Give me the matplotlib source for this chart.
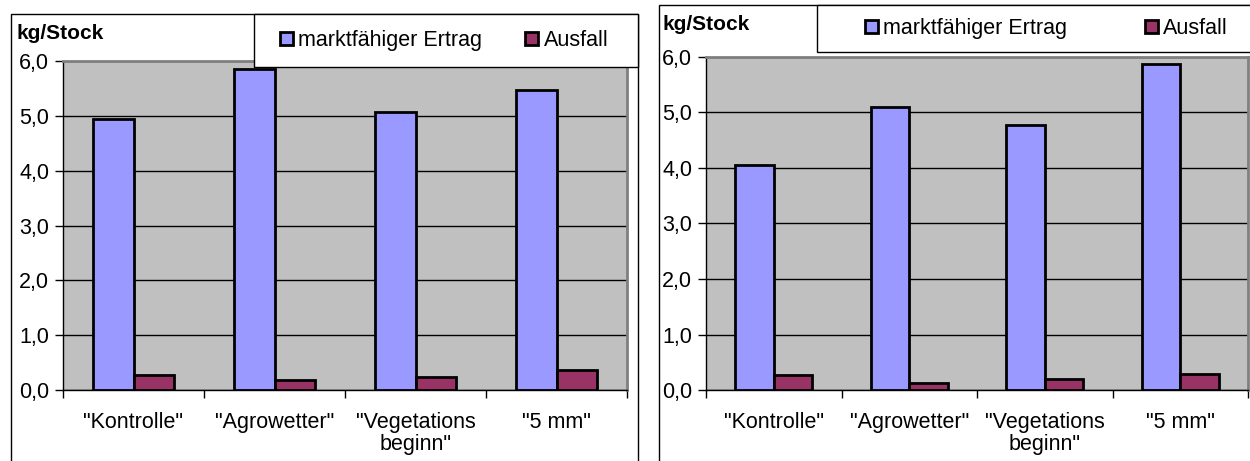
import numpy as np
import matplotlib.pyplot as plt
from matplotlib.patches import Rectangle, Patch

plt.rcParams['font.family'] = ['Liberation Sans', 'DejaVu Sans']

# data
categories = ['"Kontrolle"', '"Agrowetter"', '"Vegetations\nbeginn"', '"5 mm"']
ertrag_left = [4.95, 5.85, 5.07, 5.47]
ausfall_left = [0.28, 0.18, 0.24, 0.36]
ertrag_right = [4.05, 5.10, 4.78, 5.87]
ausfall_right = [0.27, 0.12, 0.19, 0.28]
yticks = [0, 1, 2, 3, 4, 5, 6]
series_names = ['marktfähiger Ertrag', 'Ausfall']

BLUE = '#9999FF'
MAROON = '#993366'
GREY = '#C0C0C0'
FS = 15.5

W, H = 1250, 461
fig = plt.figure(figsize=(W / 100, H / 100), dpi=100)


def box(x0, y0, x1, y1):
    # pixel box -> figure fraction [left, bottom, width, height]
    return [x0 / W, 1 - y1 / H, (x1 - x0) / W, (y1 - y0) / H]


def panel(frame, plot, leg, leg_x, colsp, title_xy, ertrag, ausfall):
    # outer frame (runs off the bottom of the image)
    fx0, fy0, fx1 = frame
    fig.patches.append(Rectangle((fx0 / W, -0.05), (fx1 - fx0) / W, 1.05 - fy0 / H,
                                 transform=fig.transFigure, fill=False,
                                 edgecolor='black', linewidth=1.0, zorder=0))
    fig.text(title_xy[0] / W, 1 - title_xy[1] / H, 'kg/Stock', fontsize=FS - 0.5,
             fontweight='bold', va='center', ha='left')

    ax = fig.add_axes(box(*plot))
    ax.set_facecolor(GREY)
    x = np.arange(len(categories))
    w = 0.285
    ax.bar(x - w / 2, ertrag, w, color=BLUE, edgecolor='black', linewidth=2.0, zorder=3)
    ax.bar(x + w / 2, ausfall, w, color=MAROON, edgecolor='black', linewidth=2.0, zorder=3)
    ax.set_xlim(-0.5, len(categories) - 0.5)
    ax.set_ylim(0, 6)
    ax.set_yticks(yticks)
    ax.set_yticklabels([f'{v:.1f}'.replace('.', ',') for v in yticks], fontsize=FS)
    ax.yaxis.grid(True, color='black', linewidth=1.0, zorder=1)
    ax.set_axisbelow(True)
    ax.set_xticks(x)
    ax.set_xticklabels(categories, fontsize=FS, linespacing=1.05)
    ax.tick_params(axis='x', length=0, pad=16)
    ax.set_xticks(np.arange(-0.5, len(categories)), minor=True)
    ax.tick_params(axis='x', which='minor', length=6, width=1, direction='out')
    ax.tick_params(axis='y', length=6, width=1, direction='out', pad=4)
    for s in ['top', 'right']:
        ax.spines[s].set_color('#808080')
        ax.spines[s].set_linewidth(2)
    for s in ['left', 'bottom']:
        ax.spines[s].set_color('black')
        ax.spines[s].set_linewidth(1)

    # legend box
    lx0, ly0, lx1, ly1 = leg
    fig.patches.append(Rectangle((lx0 / W, 1 - ly1 / H), (lx1 - lx0) / W, (ly1 - ly0) / H,
                                 transform=fig.transFigure, facecolor='white',
                                 edgecolor='black', linewidth=1.0, zorder=5))
    handles = [Patch(facecolor=BLUE, edgecolor='black', linewidth=2.0),
               Patch(facecolor=MAROON, edgecolor='black', linewidth=2.0)]
    lg = fig.legend(handles, series_names, loc='center left',
                    bbox_to_anchor=(leg_x / W, 1 - (ly0 + ly1) / 2 / H),
                    ncol=2, frameon=False, fontsize=FS, handlelength=0.6,
                    handleheight=0.6, handletextpad=0.25, columnspacing=colsp,
                    borderaxespad=0, borderpad=0)
    lg.set_zorder(6)
    return ax


panel((11, 14, 638), (63, 61, 627, 390), (254, 14, 638, 67), 280, 2.0, (17, 33),
      ertrag_left, ausfall_left)
panel((659, 5, 1260), (706, 57, 1248, 390), (817, 5, 1260, 52), 865, 3.6, (663, 25),
      ertrag_right, ausfall_right)

fig.savefig('out.png', dpi=100)
